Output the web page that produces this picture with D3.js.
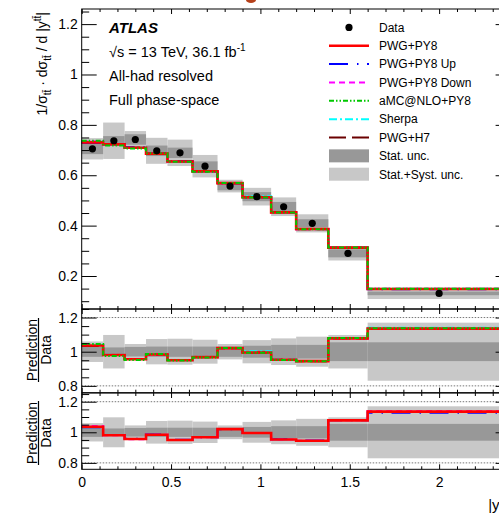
<!DOCTYPE html>
<html>
<head>
<meta charset="utf-8">
<script src="https://cdnjs.cloudflare.com/ajax/libs/d3/7.8.5/d3.min.js"></script>
<style>
body { margin: 0; overflow: hidden; background: #fff; }
text { font-family: "Liberation Sans", Arial, Helvetica, sans-serif; }
</style>
</head>
<body>
<div class="chart"></div>
<script>
// bin edges in |y_tt|
var edges = [0, 0.12, 0.24, 0.36, 0.48, 0.62, 0.76, 0.9, 1.06, 1.2, 1.38, 1.6, 2.4];
// unfolded data, normalised
var data = [0.705, 0.737, 0.742, 0.697, 0.689, 0.636, 0.557, 0.515, 0.475, 0.409, 0.290, 0.131];
// relative uncertainties
var statUnc = [0.030, 0.025, 0.028, 0.030, 0.030, 0.030, 0.030, 0.035, 0.040, 0.040, 0.055, 0.055];
var totUnc  = [0.060, 0.098, 0.045, 0.074, 0.076, 0.070, 0.045, 0.068, 0.078, 0.088, 0.098, 0.170];
// prediction / data
var rPwgPy8 = [1.036, 0.981, 0.956, 0.984, 0.950, 0.968, 1.021, 0.995, 0.953, 0.945, 1.078, 1.135];
var rUp     = [1.033, 0.982, 0.958, 0.985, 0.952, 0.968, 1.020, 0.996, 0.954, 0.946, 1.078, 1.128];
var rDown   = [1.042, 0.980, 0.955, 0.984, 0.950, 0.967, 1.021, 0.995, 0.953, 0.944, 1.079, 1.140];
var rAmc    = [1.045, 0.975, 0.952, 0.986, 0.948, 0.966, 1.022, 0.994, 0.952, 0.944, 1.080, 1.137];
var rSherpa = [1.040, 0.982, 0.957, 0.985, 0.950, 0.970, 1.022, 1.003, 0.955, 0.946, 1.079, 1.140];
var rH7     = [1.034, 0.980, 0.957, 0.983, 0.951, 0.967, 1.020, 0.996, 0.954, 0.944, 1.077, 1.133];

var mainTicks = [0.2, 0.4, 0.6, 0.8, 1, 1.2];
var ratioTicks = [0.8, 1, 1.2];
var xTicks = [0, 0.5, 1, 1.5, 2];

var legendLabels = ["Data", "PWG+PY8", "PWG+PY8 Up", "PWG+PY8 Down", "aMC@NLO+PY8",
                    "Sherpa", "PWG+H7", "Stat. unc.", "Stat.+Syst. unc."];

var styles = {
  pwg:    {color: "#ff0000", dash: null,                 w: 2.6},
  up:     {color: "#0000ff", dash: "19,9,1.5,8.5",       w: 2},
  down:   {color: "#ff00ff", dash: "6,4",                w: 2},
  amc:    {color: "#00c800", dash: "5,2,1.5,2,1.5,2",    w: 2},
  sherpa: {color: "#00ffff", dash: "8,3,2,3",            w: 2},
  h7:     {color: "#6b0000", dash: "17,6",               w: 2}
};
var ratios = {pwg: rPwgPy8, up: rUp, down: rDown, amc: rAmc, sherpa: rSherpa, h7: rH7};

var svg = d3.select(".chart").append("svg")
    .attr("width", 520)
    .attr("height", 513);

var x = d3.scaleLinear().domain([0, 2.4]).range([81.7, 510.6]);
var yMain = d3.scaleLinear().domain([0.069, 1.26]).range([309, 9]);
var yR1 = d3.scaleLinear().domain([0.76, 1.25]).range([392.7, 309]);
var yR2 = d3.scaleLinear().domain([0.758, 1.257]).range([469.3, 393]);

function drawBands(g, y, centre) {
  [[totUnc, "#c8c8c8"], [statUnc, "#989898"]].forEach(function(b) {
    g.append("g").selectAll("rect")
      .data(centre)
      .enter()
      .append("rect")
      .attr("x", function(d, i) { return x(edges[i]); })
      .attr("width", function(d, i) { return x(edges[i + 1]) - x(edges[i]); })
      .attr("y", function(d, i) { return y(d * (1 + b[0][i])); })
      .attr("height", function(d, i) { return y(d * (1 - b[0][i])) - y(d * (1 + b[0][i])); })
      .attr("fill", b[1]);
  });
}

function stepPath(y, vals) {
  var pts = vals.map(function(v, i) { return [edges[i], v]; });
  pts.push([edges[vals.length], vals[vals.length - 1]]);
  return d3.line()
    .x(function(d) { return x(d[0]); })
    .y(function(d) { return y(d[1]); })
    .curve(d3.curveStepAfter)(pts);
}

function drawModel(g, y, key, scaleByData) {
  var vals = ratios[key].map(function(r, i) { return scaleByData ? r * data[i] : r; });
  var s = styles[key];
  g.append("path")
    .attr("d", stepPath(y, vals))
    .attr("fill", "none")
    .attr("stroke", s.color)
    .attr("stroke-width", s.w)
    .attr("stroke-dasharray", s.dash);
}

function minorsBetween(lo, hi, step, majors) {
  var out = [];
  for (var v = lo; v <= hi + 1e-9; v += step) {
    var r = Math.round(v * 1000) / 1000;
    if (majors.indexOf(r) < 0) out.push(r);
  }
  return out;
}

function frameAxes(y, top, bottom, yMajors, yMinors, xLabels) {
  var g = svg.append("g");
  // y axes left / right
  g.append("g").attr("transform", "translate(" + x(0) + ",0)")
    .call(d3.axisLeft(y).tickValues(yMajors).tickSize(-15).tickPadding(4).tickFormat(d3.format("~g")));
  g.append("g").attr("transform", "translate(" + x(0) + ",0)")
    .call(d3.axisLeft(y).tickValues(yMinors).tickSize(-7.5).tickFormat(""));
  g.append("g").attr("transform", "translate(" + x(2.4) + ",0)")
    .call(d3.axisRight(y).tickValues(yMajors).tickSize(-15).tickFormat(""));
  g.append("g").attr("transform", "translate(" + x(2.4) + ",0)")
    .call(d3.axisRight(y).tickValues(yMinors).tickSize(-7.5).tickFormat(""));
  // x axes top / bottom
  var xMinors = minorsBetween(0.1, 2.4, 0.1, xTicks);
  g.append("g").attr("transform", "translate(0," + bottom + ")")
    .call(d3.axisBottom(x).tickValues(xTicks).tickSize(-5).tickPadding(8)
      .tickFormat(xLabels ? d3.format("~g") : ""));
  g.append("g").attr("transform", "translate(0," + bottom + ")")
    .call(d3.axisBottom(x).tickValues(xMinors).tickSize(-3).tickFormat(""));
  g.append("g").attr("transform", "translate(0," + top + ")")
    .call(d3.axisTop(x).tickValues(xTicks).tickSize(-5).tickFormat(""));
  g.append("g").attr("transform", "translate(0," + top + ")")
    .call(d3.axisTop(x).tickValues(xMinors).tickSize(-3).tickFormat(""));
  g.selectAll(".domain").remove();
  g.selectAll(".tick line").attr("stroke", "#000").attr("stroke-width", 1);
  g.selectAll(".tick text").attr("font-size", 14).attr("fill", "#000")
    .attr("font-family", "'Liberation Sans', Arial, sans-serif");
  g.append("rect")
    .attr("x", x(0)).attr("y", top)
    .attr("width", x(2.4) - x(0)).attr("height", bottom - top)
    .attr("fill", "none").attr("stroke", "#000").attr("stroke-width", 1);
}

// ---- main panel
var gMain = svg.append("g");
drawBands(gMain, yMain, data);
["h7", "sherpa", "down", "up", "pwg", "amc"].forEach(function(k) { drawModel(gMain, yMain, k, true); });
gMain.append("g").selectAll("circle")
  .data(data)
  .enter()
  .append("circle")
  .attr("cx", function(d, i) { return x((edges[i] + edges[i + 1]) / 2); })
  .attr("cy", function(d) { return yMain(d); })
  .attr("r", 3.6)
  .attr("fill", "#000");
frameAxes(yMain, 9, 309, mainTicks, minorsBetween(0.1, 1.25, 0.05, mainTicks), false);

// ---- ratio panel 1: generators
var ones = data.map(function() { return 1; });
var gR1 = svg.append("g");
drawBands(gR1, yR1, ones);
["h7", "sherpa", "pwg", "amc"].forEach(function(k) { drawModel(gR1, yR1, k, false); });

// ---- ratio panel 2: radiation variations
var gR2 = svg.append("g");
drawBands(gR2, yR2, ones);
["up", "down", "pwg"].forEach(function(k) { drawModel(gR2, yR2, k, false); });

[[yR1, gR1], [yR2, gR2]].forEach(function(p) {
  p[1].append("g").selectAll("line")
    .data([0.8, 1.2])
    .enter()
    .append("line")
    .attr("x1", x(0)).attr("x2", x(2.4))
    .attr("y1", function(d) { return p[0](d); })
    .attr("y2", function(d) { return p[0](d); })
    .attr("stroke", "#777")
    .attr("stroke-width", 1)
    .attr("stroke-dasharray", "1.5,1.5");
});
var rMinors = minorsBetween(0.85, 1.25, 0.05, ratioTicks);
frameAxes(yR1, 309, 392.7, ratioTicks, rMinors, false);
frameAxes(yR2, 393, 469.3, ratioTicks, rMinors, true);

// ratio labels
[350, 433].forEach(function(cy) {
  var g = svg.append("g").attr("transform", "translate(0," + cy + ")");
  g.append("text").attr("transform", "translate(37,0) rotate(-90)")
    .attr("text-anchor", "middle").attr("font-size", 14).text("Prediction");
  g.append("line").attr("x1", 38.5).attr("x2", 38.5).attr("y1", -32).attr("y2", 32)
    .attr("stroke", "#000").attr("stroke-width", 1.2);
  g.append("text").attr("transform", "translate(51,0) rotate(-90)")
    .attr("text-anchor", "middle").attr("font-size", 14).text("Data");
});

// main y title
var yt = svg.append("text")
    .attr("transform", "translate(47,12) rotate(-90)")
    .attr("text-anchor", "end")
    .attr("font-size", 14);
yt.append("tspan").text("1/σ");
yt.append("tspan").attr("dy", 4).attr("font-size", 10).text("tt\u0304");
yt.append("tspan").attr("dy", -4).text(" · dσ");
yt.append("tspan").attr("dy", 4).attr("font-size", 10).text("tt\u0304");
yt.append("tspan").attr("dy", -4).text(" / d |y");
yt.append("tspan").attr("dy", -6).attr("font-size", 10).text("tt\u0304");
yt.append("tspan").attr("dy", 6).text("|");

// x title (runs past the right edge, as in the original crop)
var xt = svg.append("text")
    .attr("x", 509).attr("y", 510)
    .attr("text-anchor", "end")
    .attr("font-size", 15);
xt.append("tspan").text("|y");
xt.append("tspan").attr("dy", -6).attr("font-size", 10).text("tt\u0304");
xt.append("tspan").attr("dy", 6).text("|");

// ATLAS labels
svg.append("text").attr("x", 109).attr("y", 33).attr("font-size", 15)
  .attr("font-weight", "bold").attr("font-style", "italic").text("ATLAS");
var cm = svg.append("text").attr("x", 109).attr("y", 57).attr("font-size", 14.5);
cm.append("tspan").text("√s = 13 TeV, 36.1 fb");
cm.append("tspan").attr("dy", -6).attr("font-size", 10).text("-1");
svg.append("text").attr("x", 109).attr("y", 81).attr("font-size", 14.5).text("All-had resolved");
svg.append("text").attr("x", 109).attr("y", 105).attr("font-size", 14.5).text("Full phase-space");

// cropped element at top edge
svg.append("ellipse").attr("cx", 251).attr("cy", 0).attr("rx", 5).attr("ry", 3).attr("fill", "#b5401a");

// legend
var legKeys = [null, "pwg", "up", "down", "amc", "sherpa", "h7"];
var leg = svg.append("g");
legendLabels.forEach(function(lab, i) {
  var cy = 27.4 + i * 18.35;
  if (i === 0) {
    leg.append("circle").attr("cx", 349).attr("cy", cy).attr("r", 3.6).attr("fill", "#000");
  } else if (i < 7) {
    var s = styles[legKeys[i]];
    leg.append("line").attr("x1", 329).attr("x2", 369).attr("y1", cy).attr("y2", cy)
      .attr("stroke", s.color).attr("stroke-width", s.w).attr("stroke-dasharray", s.dash);
  } else {
    leg.append("rect").attr("x", 329).attr("y", cy - 6.5).attr("width", 40).attr("height", 13)
      .attr("fill", i === 7 ? "#989898" : "#c8c8c8");
  }
  leg.append("text").attr("x", 379).attr("y", cy + 4.3).attr("font-size", 12).text(lab);
});
</script>
</body>
</html>
